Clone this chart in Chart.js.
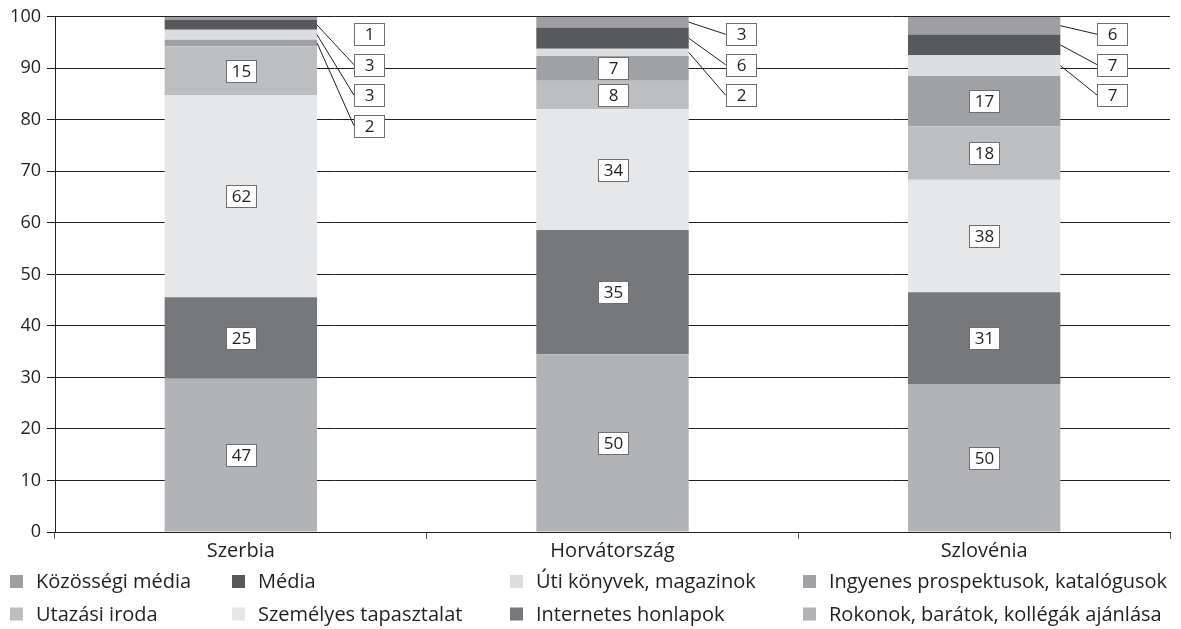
<!DOCTYPE html>
<html lang="hu">
<head>
<meta charset="utf-8">
<title>Információforrások országonként</title>
<script src="https://cdn.jsdelivr.net/npm/chart.js@4.4.1/dist/chart.umd.min.js"></script>
<style>
  html, body { margin: 0; padding: 0; background: #fff; }
  #wrap { width: 1181px; height: 629px; position: relative; }
</style>
</head>
<body>
<div id="wrap"><canvas id="chart" width="1181" height="629"></canvas></div>
<script>
// Countries on the category axis
const countries = ['Szerbia', 'Horvátország', 'Szlovénia'];

// Number of answers per information source (stack order: bottom to top)
const rokonok     = [47, 50, 50];   // Rokonok, barátok, kollégák ajánlása
const internetes  = [25, 35, 31];   // Internetes honlapok
const szemelyes   = [62, 34, 38];   // Személyes tapasztalat
const utazasi     = [15, 8, 18];    // Utazási iroda
const ingyenes    = [2, 7, 17];     // Ingyenes prospektusok, katalógusok
const utiKonyvek  = [3, 2, 7];      // Úti könyvek, magazinok
const mediaVals   = [3, 6, 7];      // Média
const kozossegi   = [1, 3, 6];      // Közösségi média

// Value axis ticks (percent)
const yTickValues = [0, 10, 20, 30, 40, 50, 60, 70, 80, 90, 100];

const seriesNames = [
  'Rokonok, barátok, kollégák ajánlása',
  'Internetes honlapok',
  'Személyes tapasztalat',
  'Utazási iroda',
  'Ingyenes prospektusok, katalógusok',
  'Úti könyvek, magazinok',
  'Média',
  'Közösségi média'
];
const seriesCounts = [rokonok, internetes, szemelyes, utazasi, ingyenes, utiKonyvek, mediaVals, kozossegi];
const seriesColors = ['#b1b3b6', '#77787b', '#e6e7e8', '#bcbec0', '#9fa1a4', '#dcdddf', '#58595b', '#9d9fa2'];

// Column totals, so each bar is drawn as a 100% stack
const totals = countries.map((_, c) => seriesCounts.reduce((s, arr) => s + arr[c], 0));

const datasets = seriesNames.map((name, i) => ({
  label: name,
  counts: seriesCounts[i],
  data: seriesCounts[i].map((v, c) => v / totals[c] * 100),
  backgroundColor: seriesColors[i],
  borderWidth: 0,
  categoryPercentage: 1.0,
  barPercentage: 0.41
}));

const FONT = '"Open Sans", "DejaVu Sans", sans-serif';
const TEXT = '#231f20';

// Boxed value labels: inside the segment, or to the right of the bar with a leader line
const valueLabels = {
  id: 'valueLabels',
  afterDatasetsDraw(chart) {
    const ctx = chart.ctx;
    const area = chart.chartArea;
    const boxW = 30, boxH = 22;
    ctx.save();
    ctx.font = '17px ' + FONT;
    ctx.textAlign = 'center';
    ctx.textBaseline = 'middle';
    countries.forEach((_, c) => {
      // collect callouts from the top of the stack downwards
      const callouts = [];
      for (let d = chart.data.datasets.length - 1; d >= 0; d--) {
        const ds = chart.data.datasets[d];
        const bar = chart.getDatasetMeta(d).data[c];
        const pct = ds.data[c];
        const midY = (bar.y + bar.base) / 2;
        const right = bar.x + bar.width / 2;
        if (pct < 4.5) {
          callouts.push({ text: String(ds.counts[c]), midY, right, pct });
        } else {
          drawBox(ctx, bar.x, midY, boxW, boxH, String(ds.counts[c]));
        }
      }
      callouts.forEach((co, slot) => {
        const bx = co.right + 37;
        const by = area.top + 17.5 + slot * 30.5;
        if (co.pct >= 1) {
          ctx.beginPath();
          ctx.strokeStyle = '#231f20';
          ctx.lineWidth = 1;
          ctx.moveTo(co.right, co.midY);
          ctx.lineTo(bx, by);
          ctx.stroke();
        }
        drawBox(ctx, bx + boxW / 2, by, boxW, boxH, co.text);
      });
    });
    ctx.restore();
  }
};

function drawBox(ctx, cx, cy, w, h, text) {
  const x = Math.round(cx - w / 2) + 0.5;
  const y = Math.round(cy - h / 2) + 0.5;
  ctx.fillStyle = '#ffffff';
  ctx.fillRect(x, y, w, h);
  ctx.strokeStyle = '#6d6e71';
  ctx.lineWidth = 1;
  ctx.strokeRect(x, y, w, h);
  ctx.fillStyle = TEXT;
  ctx.fillText(text, x + w / 2, y + h / 2 + 1);
}

// Legend in four aligned columns, two rows, listed from the top of the stack
const gridLegend = {
  id: 'gridLegend',
  afterDraw(chart) {
    const ctx = chart.ctx;
    const colX = [10, 232, 510, 803];
    const rowY = [581.5, 614];
    const items = chart.data.datasets.slice().reverse();
    ctx.save();
    ctx.font = '20px ' + FONT;
    ctx.textAlign = 'left';
    ctx.textBaseline = 'middle';
    items.forEach((ds, i) => {
      const col = i % 4, row = Math.floor(i / 4);
      const x = colX[col], y = rowY[row];
      ctx.fillStyle = ds.backgroundColor;
      ctx.fillRect(x, y - 6.5, 13, 13);
      ctx.fillStyle = TEXT;
      ctx.fillText(ds.label, x + 26, y + 1);
    });
    ctx.restore();
  }
};

new Chart(document.getElementById('chart'), {
  type: 'bar',
  data: { labels: countries, datasets },
  options: {
    responsive: false,
    animation: false,
    events: [],
    layout: { padding: { left: 0, right: 11, top: 16, bottom: 0 } },
    plugins: {
      legend: { display: false },
      tooltip: { enabled: false },
      title: { display: false }
    },
    scales: {
      x: {
        stacked: true,
        offset: true,
        grid: {
          offset: true,
          drawOnChartArea: false,
          drawTicks: true,
          tickLength: 7,
          color: '#58595b',
          lineWidth: 1
        },
        border: { display: true, color: '#231f20', width: 1 },
        ticks: { color: TEXT, font: { family: FONT, size: 20 }, padding: 0 },
        afterFit(scale) { scale.height = 97; }
      },
      y: {
        stacked: true,
        min: 0,
        max: 100,
        afterBuildTicks(scale) { scale.ticks = yTickValues.map(v => ({ value: v })); },
        grid: { color: '#231f20', lineWidth: 1, drawTicks: true, tickLength: 8 },
        border: { display: true, color: '#231f20', width: 1 },
        ticks: { color: TEXT, font: { family: FONT, size: 18 }, padding: 6 },
        afterFit(scale) { scale.width = 55; }
      }
    }
  },
  plugins: [valueLabels, gridLegend]
});
</script>
</body>
</html>
